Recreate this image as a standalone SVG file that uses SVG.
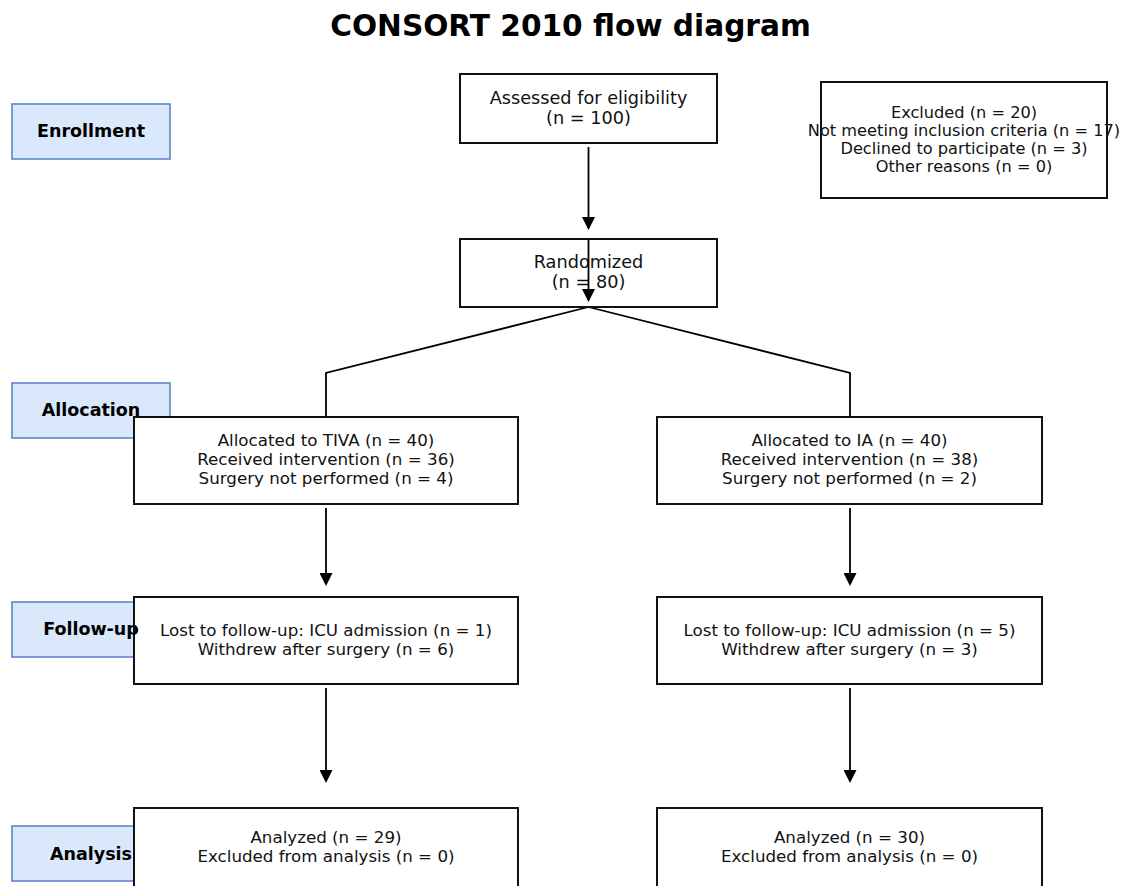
<svg xmlns="http://www.w3.org/2000/svg" width="1122" height="886" viewBox="0 0 1122 886">
<style>
  .stage rect{fill:#dae8fc;stroke:#5b86c8;stroke-width:1.6}
  .stage text{font-family:"DejaVu Sans","Liberation Sans",sans-serif;font-weight:bold;font-size:17.5px;fill:#000;text-anchor:middle}
  .box rect{fill:#fff;stroke:#111;stroke-width:2}
  .box text{font-family:"DejaVu Sans","Liberation Sans",sans-serif;font-size:16.7px;fill:#111;text-anchor:middle}
  .big text{font-size:17.7px}
  .exc text{font-size:16.2px}
  .conn{fill:none;stroke:#000;stroke-width:1.8}
  .title{font-family:"DejaVu Sans","Liberation Sans",sans-serif;font-weight:bold;font-size:29.6px;fill:#000;text-anchor:middle}
</style>
<defs>
  <marker id="ah" viewBox="0 0 13 13" markerWidth="13" markerHeight="13" refX="11" refY="6.5" orient="auto" markerUnits="userSpaceOnUse">
    <path d="M0,0 L13,6.5 L0,13 z" fill="#000"/>
  </marker>
</defs>
<rect width="1122" height="886" fill="#fff"/>
<text class="title" x="570.5" y="36">CONSORT 2010 flow diagram</text>

<g id="stage-rects" class="stage">
  <rect x="12" y="104" width="158" height="55"/>
  <rect x="12" y="383" width="158" height="55"/>
  <rect x="12" y="602" width="158" height="55"/>
  <rect x="12" y="826" width="158" height="55"/>
</g>

<g id="connectors">
  <line class="conn" x1="588.5" y1="147" x2="588.5" y2="228" marker-end="url(#ah)"/>
  <polyline class="conn" points="588.5,307 326,373 326,416"/>
  <polyline class="conn" points="588.5,307 850,373 850,416"/>
  <line class="conn" x1="326" y1="508" x2="326" y2="584" marker-end="url(#ah)"/>
  <line class="conn" x1="850" y1="508" x2="850" y2="584" marker-end="url(#ah)"/>
  <line class="conn" x1="326" y1="688" x2="326" y2="781" marker-end="url(#ah)"/>
  <line class="conn" x1="850" y1="688" x2="850" y2="781" marker-end="url(#ah)"/>
</g>

<g id="assessed" class="box big">
  <rect x="460" y="74" width="257" height="69"/>
  <text x="588.5" y="104">Assessed for eligibility</text>
  <text x="588.5" y="124">(n = 100)</text>
</g>
<g id="randomized" class="box big">
  <rect x="460" y="239" width="257" height="68"/>
  <text x="588.5" y="267.5">Randomized</text>
  <text x="588.5" y="287.5">(n = 80)</text>
</g>
<g id="excluded" class="box exc">
  <rect x="821" y="82" width="286" height="116"/>
  <text x="964" y="117.5">Excluded (n = 20)</text>
  <text x="964" y="135.5">Not meeting inclusion criteria (n = 17)</text>
  <text x="964" y="153.5">Declined to participate (n = 3)</text>
  <text x="964" y="171.5">Other reasons (n = 0)</text>
</g>
<g id="alloc-tiva" class="box">
  <rect x="134" y="417" width="384" height="87"/>
  <text x="326" y="446">Allocated to TIVA (n = 40)</text>
  <text x="326" y="465">Received intervention (n = 36)</text>
  <text x="326" y="484">Surgery not performed (n = 4)</text>
</g>
<g id="alloc-ia" class="box">
  <rect x="657" y="417" width="385" height="87"/>
  <text x="849.5" y="446">Allocated to IA (n = 40)</text>
  <text x="849.5" y="465">Received intervention (n = 38)</text>
  <text x="849.5" y="484">Surgery not performed (n = 2)</text>
</g>
<g id="followup-tiva" class="box">
  <rect x="134" y="597" width="384" height="87"/>
  <text x="326" y="635.5">Lost to follow-up: ICU admission (n = 1)</text>
  <text x="326" y="654.5">Withdrew after surgery (n = 6)</text>
</g>
<g id="followup-ia" class="box">
  <rect x="657" y="597" width="385" height="87"/>
  <text x="849.5" y="635.5">Lost to follow-up: ICU admission (n = 5)</text>
  <text x="849.5" y="654.5">Withdrew after surgery (n = 3)</text>
</g>
<g id="analysis-tiva" class="box">
  <rect x="134" y="808" width="384" height="90"/>
  <text x="326" y="843">Analyzed (n = 29)</text>
  <text x="326" y="862">Excluded from analysis (n = 0)</text>
</g>
<g id="analysis-ia" class="box">
  <rect x="657" y="808" width="385" height="90"/>
  <text x="849.5" y="843">Analyzed (n = 30)</text>
  <text x="849.5" y="862">Excluded from analysis (n = 0)</text>
</g>

<g id="through-arrow">
  <line class="conn" x1="588.5" y1="240" x2="588.5" y2="300" marker-end="url(#ah)"/>
</g>

<g id="stage-labels" class="stage">
  <text x="91" y="137">Enrollment</text>
  <text x="91" y="416">Allocation</text>
  <text x="91" y="635">Follow-up</text>
  <text x="91" y="859.5">Analysis</text>
</g>
</svg>
